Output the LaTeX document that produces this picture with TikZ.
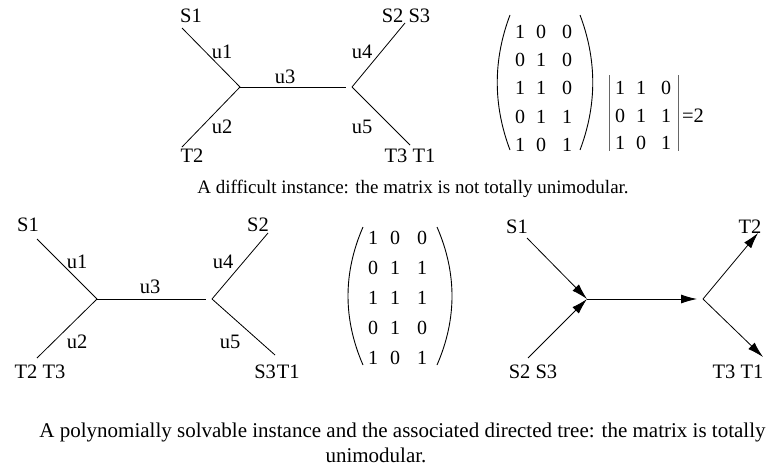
\documentclass[tikz,border=0pt]{standalone}
\usepackage{fontspec}
\setmainfont{Liberation Serif}
\usetikzlibrary{arrows.meta}
\begin{document}
\begin{tikzpicture}[x=1pt,y=-1pt,
  lbl/.style={inner sep=0pt,font=\fontsize{20.5}{22}\selectfont},
  dig/.style={inner sep=0pt,font=\fontsize{20}{22}\selectfont},
  captext/.style={inner sep=0pt,font=\fontsize{19}{21}\selectfont},
  captextb/.style={inner sep=0pt,font=\fontsize{21}{23}\selectfont},
  edge/.style={line width=0.8pt},
  arr/.style={line width=0.8pt,-{Latex[length=16pt,width=9pt]}},
  detbar/.style={line width=1pt,black!60},
  paren/.style={line width=0.9pt}]
\useasboundingbox (0,0) rectangle (770,466);

% ---------- top tree ----------
\node[lbl] (aS1) at (191,16) {S1};
\node[lbl] (aS23) at (406,16) {S2 S3};
\node[lbl] (aT2) at (192,156) {T2};
\node[lbl] (aT31) at (410,156) {T3 T1};
\node[lbl] (au1) at (222,52) {u1};
\node[lbl] (au2) at (222,127) {u2};
\node[lbl] (au3) at (285,77) {u3};
\node[lbl] (au4) at (362,52) {u4};
\node[lbl] (au5) at (362,127) {u5};
\coordinate (aJL) at (240,87);
\coordinate (aJM) at (346,87);
\coordinate (aJR) at (352,87);
\coordinate (aE1) at (182,28);
\coordinate (aE2) at (182,147);
\coordinate (aE4) at (405,23);
\coordinate (aE5) at (410,145);
\draw[edge] (aE1) -- (aJL);
\draw[edge] (aE2) -- (aJL);
\draw[edge] (aJL) -- (aJM);
\draw[edge] (aJR) -- (aE4);
\draw[edge] (aJR) -- (aE5);

% ---------- matrix 1 ----------
\draw[paren] (510,15) .. controls (493,60) and (493,105) .. (510,150);
\draw[paren] (580,15) .. controls (597,60) and (597,105) .. (580,150);
\foreach \r/\y/\a/\b/\c in {1/32/1/0/0, 2/60/0/1/0, 3/88/1/1/0, 4/117/0/1/1, 5/145/1/0/1}{
  \node[dig] (m1-\r-1) at (520,\y) {\a};
  \node[dig] (m1-\r-2) at (541,\y) {\b};
  \node[dig] (m1-\r-3) at (567,\y) {\c};
}
% determinant
\draw[detbar] (609,75) -- (609,151);
\draw[detbar] (678,75) -- (678,151);
\foreach \r/\y/\a/\b/\c in {1/88/1/1/0, 2/116/0/1/1, 3/143/1/0/1}{
  \node[dig] (d-\r-1) at (620,\y) {\a};
  \node[dig] (d-\r-2) at (641,\y) {\b};
  \node[dig] (d-\r-3) at (666,\y) {\c};
}
\node[lbl] (deq) at (693,116) {=2};

\node[captext] (cap1) at (413,189) {A difficult instance: the matrix is not totally unimodular.};

% ---------- bottom-left tree ----------
\node[lbl] (bS1) at (28,225) {S1};
\node[lbl] (bS2) at (258,225) {S2};
\node[lbl] (bT23) at (40,372) {T2 T3};
\node[lbl] (bS3T1) at (277,372) {S3\hspace{1pt}T1};
\node[lbl] (bu1) at (77,262) {u1};
\node[lbl] (bu2) at (77,342) {u2};
\node[lbl] (bu3) at (150,287) {u3};
\node[lbl] (bu4) at (223,262) {u4};
\node[lbl] (bu5) at (230,342) {u5};
\coordinate (bJL) at (97,299);
\coordinate (bJM) at (206,299);
\coordinate (bJR) at (212,299);
\coordinate (bE1) at (37,239);
\coordinate (bE2) at (37,358);
\coordinate (bE4) at (268,233);
\coordinate (bE5) at (275,355);
\draw[edge] (bE1) -- (bJL);
\draw[edge] (bE2) -- (bJL);
\draw[edge] (bJL) -- (bJM);
\draw[edge] (bJR) -- (bE4);
\draw[edge] (bJR) -- (bE5);

% ---------- matrix 2 ----------
\draw[paren] (363,227) .. controls (343,273) and (343,319) .. (363,365);
\draw[paren] (437,227) .. controls (457,273) and (457,319) .. (437,365);
\foreach \r/\y/\a/\b/\c in {1/238/1/0/0, 2/268/0/1/1, 3/298/1/1/1, 4/328/0/1/0, 5/358/1/0/1}{
  \node[dig] (m2-\r-1) at (373,\y) {\a};
  \node[dig] (m2-\r-2) at (395,\y) {\b};
  \node[dig] (m2-\r-3) at (422,\y) {\c};
}

% ---------- directed tree ----------
\node[lbl] (cS1) at (517,227) {S1};
\node[lbl] (cT2) at (750,227) {T2};
\node[lbl] (cS23) at (533,372) {S2 S3};
\node[lbl] (cT31) at (738,372) {T3 T1};
\coordinate (cJL) at (587,299);
\coordinate (cJM) at (697,299);
\coordinate (cJR) at (703,299);
\coordinate (cE1) at (527,238);
\coordinate (cE2) at (528,358);
\coordinate (cE4) at (758,233);
\coordinate (cE5) at (763,357);
\draw[arr] (cE1) -- (cJL);
\draw[arr] (cE2) -- (cJL);
\draw[arr] (cJL) -- (cJM);
\draw[arr] (cJR) -- (cE4);
\draw[arr] (cJR) -- (cE5);

\node[captextb] (cap2a) at (402.5,432) {A polynomially solvable instance and the associated directed tree: the matrix is totally};
\node[captextb] (cap2b) at (376,455) {unimodular.};
\end{tikzpicture}
\end{document}
